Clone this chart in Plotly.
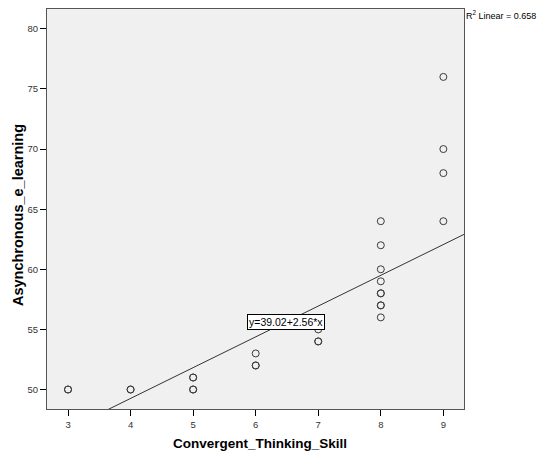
import plotly.graph_objects as go

# Data
convergent_x = [3, 3, 4, 4, 5, 5, 5, 5, 6, 6, 6, 7, 7, 7,
                8, 8, 8, 8, 8, 8, 8, 8, 8, 9, 9, 9, 9]
async_y = [50, 50, 50, 50, 50, 50, 51, 51, 52, 52, 53, 54, 54, 55,
           64, 62, 60, 59, 58, 58, 57, 57, 56, 76, 70, 68, 64]
intercept = 39.02
slope = 2.56
r2_text = "R<sup>2</sup> Linear = 0.658"
eq_text = "y=39.02+2.56*x"
x_title = "Convergent_Thinking_Skill"
y_title = "Asynchronous_e_learning"
x_ticks = [3, 4, 5, 6, 7, 8, 9]
y_ticks = [50, 55, 60, 65, 70, 75, 80]

x_range = [2.664, 9.33]
y_range = [48.38, 81.65]

fit_x = [x_range[0], x_range[1]]
fit_y = [intercept + slope * v for v in fit_x]

ARIAL = "Arial, Liberation Sans"

fig = go.Figure()
fig.add_trace(go.Scatter(
    x=fit_x, y=fit_y, mode="lines",
    line=dict(color="#333333", width=1),
    hoverinfo="skip", showlegend=False,
))
fig.add_trace(go.Scatter(
    x=convergent_x, y=async_y, mode="markers",
    marker=dict(symbol="circle-open", size=7, color="#3a3a3a",
                line=dict(width=1, color="#3a3a3a")),
    showlegend=False, cliponaxis=False,
))

fig.add_annotation(
    x=6.48, y=55.6, xref="x", yref="y", text=eq_text, showarrow=False,
    font=dict(family=ARIAL, size=10.5, color="#000000"),
    bgcolor="#ffffff", bordercolor="#000000", borderwidth=1, borderpad=1,
)
fig.add_annotation(
    x=1.0, y=1.0, xref="paper", yref="paper", text=r2_text, showarrow=False,
    xanchor="left", yanchor="top", xshift=0, yshift=2,
    font=dict(family=ARIAL, size=9, color="#000000"),
)
# axis titles
fig.add_annotation(
    x=0.511, y=-0.0875, xref="paper", yref="paper", text="<b>" + x_title + "</b>",
    showarrow=False, xanchor="center", yanchor="middle",
    font=dict(family=ARIAL, size=13.5, color="#000000"),
)
fig.add_annotation(
    x=-0.0695, y=0.485, xref="paper", yref="paper", text="<b>" + y_title + "</b>",
    showarrow=False, xanchor="center", yanchor="middle", textangle=-90,
    font=dict(family=ARIAL, size=14.5, color="#000000"),
)

axis_common = dict(
    showgrid=False, zeroline=False, showline=True, mirror=True,
    linecolor="#555555", linewidth=1.2,
    ticks="outside", ticklen=6, tickcolor="#000000", tickwidth=1,
    tickfont=dict(family=ARIAL, size=9.5, color="#333333"),
)

fig.update_layout(
    width=538, height=453,
    margin=dict(l=47, r=74, t=9, b=44),
    paper_bgcolor="#ffffff", plot_bgcolor="#f0f0f0",
    xaxis=dict(range=x_range, tickvals=x_ticks, **axis_common),
    yaxis=dict(range=y_range, tickvals=y_ticks, **axis_common),
)

fig.write_html("out.html")
